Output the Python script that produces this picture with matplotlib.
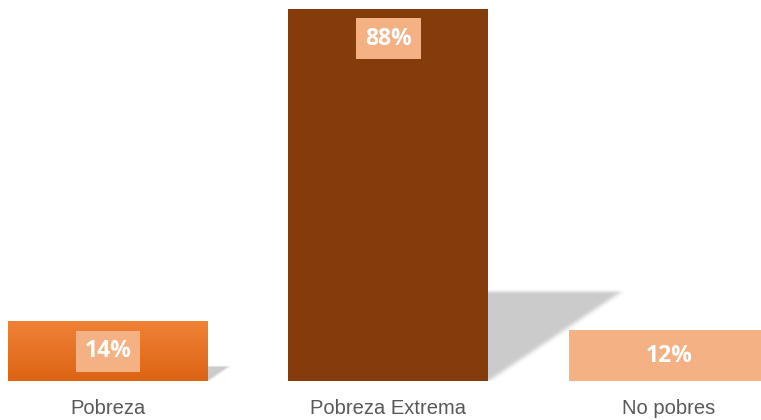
import matplotlib.pyplot as plt
import numpy as np
from matplotlib.colors import LinearSegmentedColormap

categorias = ['Pobreza', 'Pobreza Extrema', 'No pobres']
valores = [14, 88, 12]
etiquetas = ['14%', '88%', '12%']
colores = ['#E87426', '#843C0C', '#F4B183']

fig = plt.figure(figsize=(7.61, 4.20), dpi=100)
ax = fig.add_axes([0, 39/420, 1, 381/420])
ax.axis('off')

x = np.arange(len(categorias))
ancho = 0.713

def sombra(x0, v):
    # triangulo difuminado a la derecha de la barra
    largo = 0.0054*v
    alto = 0.24*v
    mx, my = 0.12, 4.0
    nx, ny = 240, 140
    gx = np.linspace(x0 - mx, x0 + largo + mx, nx)
    gy = np.linspace(0, alto + my, ny)
    X, Y = np.meshgrid(gx, gy)
    m = ((X >= x0 - 0.1) & (Y <= alto) & (Y >= 0) & ((X - x0)/largo <= Y/alto)).astype(float)
    kx = np.exp(-np.linspace(-2.5, 2.5, 25)**2)
    kx /= kx.sum()
    ky = np.exp(-np.linspace(-2.5, 2.5, 13)**2)
    ky /= ky.sum()
    m = np.apply_along_axis(lambda r: np.convolve(r, kx, mode='same'), 1, m)
    m = np.apply_along_axis(lambda c: np.convolve(c, ky, mode='same'), 0, m)
    img = np.zeros((ny, nx, 4))
    img[..., :3] = 0.55
    img[..., 3] = np.clip(m, 0, 1)*0.45
    ax.imshow(img, extent=(gx[0], gx[-1], 0, gy[-1]), origin='lower', aspect='auto',
              zorder=1, interpolation='bilinear')

for xi, v in zip(x, valores):
    sombra(xi + ancho/2, v)

barras = ax.bar(x, valores, width=ancho, color=colores, zorder=2)

# degradado en la primera barra
b = barras[0]
grad = np.linspace(0, 1, 100).reshape(-1, 1)
cmap = LinearSegmentedColormap.from_list('g', ['#DD6313', '#EF8236'])
ax.imshow(grad, cmap=cmap, aspect='auto', origin='lower', zorder=3,
          extent=(b.get_x(), b.get_x() + b.get_width(), 0, b.get_height()))

ax.set_xlim(-0.385, 2.328)
ax.set_ylim(0, 90.13)

for i, (xi, v) in enumerate(zip(x, valores)):
    y = v - 7.0 if v > 50 else v/2
    ax.text(xi, y, etiquetas[i], ha='center', va='center', color='white',
            fontsize=16.5, fontweight='bold', family=['Open Sans', 'DejaVu Sans'], zorder=5,
            bbox=dict(boxstyle='square,pad=0.38', fc='#F4B183', ec='none'))

for xi, c in zip(x, categorias):
    fig.text((108 + xi*280.5)/761, 11/420, c, ha='center', va='center', color='#595959',
             fontsize=14.5, family=['Liberation Sans Narrow', 'Liberation Sans', 'DejaVu Sans'])

fig.savefig('out.png', dpi=100)
